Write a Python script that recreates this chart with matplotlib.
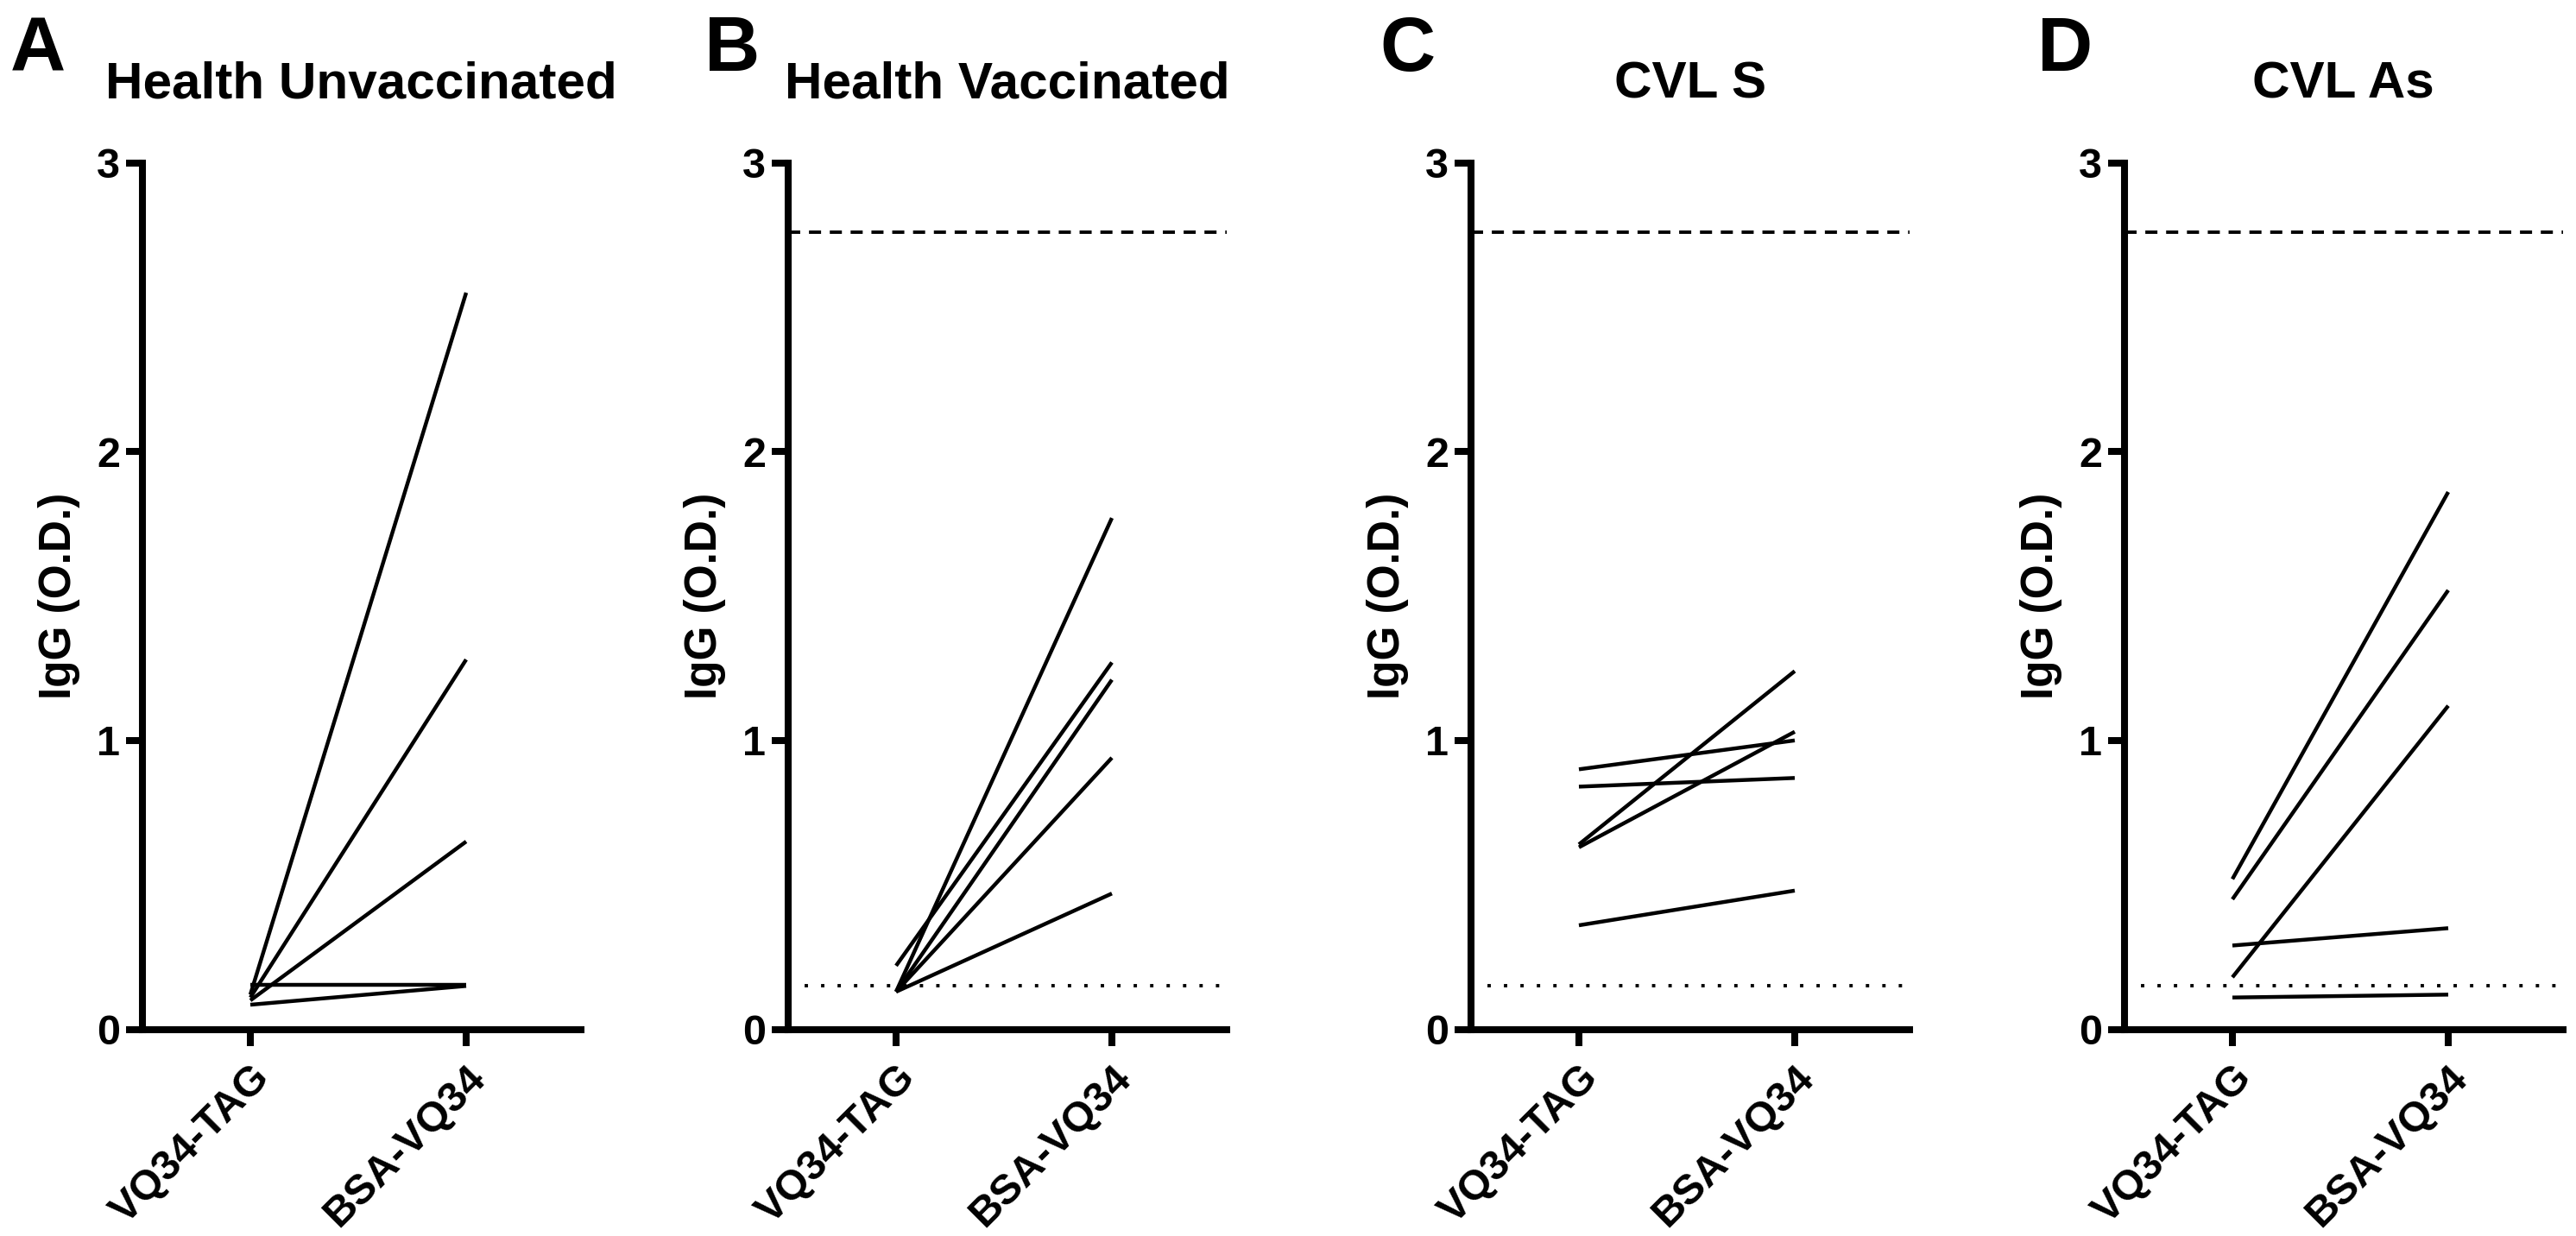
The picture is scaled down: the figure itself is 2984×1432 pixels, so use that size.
import matplotlib
matplotlib.use("Agg")
import matplotlib.pyplot as plt
import matplotlib.transforms as mtransforms

plt.rcParams['font.family'] = ['Liberation Sans', 'DejaVu Sans']
plt.rcParams['font.weight'] = 'bold'

categories = ["VQ34-TAG", "BSA-VQ34"]
panel_letters = ["A", "B", "C", "D"]
panel_titles = ["Health Unvaccinated", "Health Vaccinated", "CVL S", "CVL As"]

A_tag = [0.12, 0.11, 0.10, 0.155, 0.085]
A_bsa = [2.55, 1.28, 0.65, 0.155, 0.15]
B_tag = [0.13, 0.22, 0.13, 0.13, 0.13]
B_bsa = [1.77, 1.27, 1.21, 0.94, 0.47]
C_tag = [0.90, 0.84, 0.64, 0.63, 0.36]
C_bsa = [1.00, 0.87, 1.24, 1.03, 0.48]
D_tag = [0.52, 0.45, 0.18, 0.29, 0.11]
D_bsa = [1.86, 1.52, 1.12, 0.35, 0.12]

cutoff_upper = 2.76
cutoff_lower = 0.15
show_cutoffs = [False, True, True, True]

yticks = [0, 1, 2, 3]
ylabel = "IgG (O.D.)"

W, H = 2984, 1432
dpi = 200
fig = plt.figure(figsize=(W / dpi, H / dpi), dpi=dpi)

ax_left_px = [165, 913, 1704, 2461]
ax_w_px = 507.5
y0_px, y3_px = 1192.5, 188.5
letter_x_px = [12, 816, 1598, 2360]

tags = [A_tag, B_tag, C_tag, D_tag]
bsas = [A_bsa, B_bsa, C_bsa, D_bsa]

for i in range(4):
    ax = fig.add_axes([ax_left_px[i] / W, (H - y0_px) / H, ax_w_px / W, (y0_px - y3_px) / H])
    for t, b in zip(tags[i], bsas[i]):
        ax.plot([0, 1], [t, b], color='black', lw=1.6, solid_capstyle='butt', clip_on=False)
    if show_cutoffs[i]:
        ax.axhline(cutoff_upper, color='black', lw=1.4, dashes=(3.6, 2.6))
        ax.axhline(cutoff_lower, color='black', lw=1.4, dashes=(1, 3.9))
    ax.set_xlim(-0.5, 1.53)
    ax.set_ylim(0, 3)
    ax.set_yticks(yticks)
    ax.set_xticks([0, 1])
    ax.set_xticklabels(categories, rotation=45, ha='right', va='top',
                       rotation_mode='anchor', fontsize=17.5, fontweight='bold')
    offset = mtransforms.ScaledTranslation(5 / dpi, 0, fig.dpi_scale_trans)
    for lab in ax.get_xticklabels():
        lab.set_transform(lab.get_transform() + offset)
    ax.tick_params(axis='x', length=7.0, width=2.9, pad=5.0)
    ax.tick_params(axis='y', length=6.8, width=2.9, pad=2.5, labelsize=17.5)
    for lab in ax.get_yticklabels():
        lab.set_fontweight('bold')
    for s in ['top', 'right']:
        ax.spines[s].set_visible(False)
    for s in ['left', 'bottom']:
        ax.spines[s].set_linewidth(2.9)
        ax.spines[s].set_capstyle('projecting')
    ax.set_ylabel(ylabel, fontsize=18.5, fontweight='bold')
    ax.yaxis.set_label_coords(-0.142, 0.5)
    cx = (ax_left_px[i] + ax_w_px / 2) / W
    fig.text(cx, 1 - 113 / H, panel_titles[i], ha='center', va='baseline',
             fontsize=21.7, fontweight='bold')
    fig.text(letter_x_px[i] / W, 1 - 82 / H, panel_letters[i], ha='left', va='baseline',
             fontsize=32, fontweight='bold')

fig.savefig("out.png", dpi=dpi, facecolor='white')
